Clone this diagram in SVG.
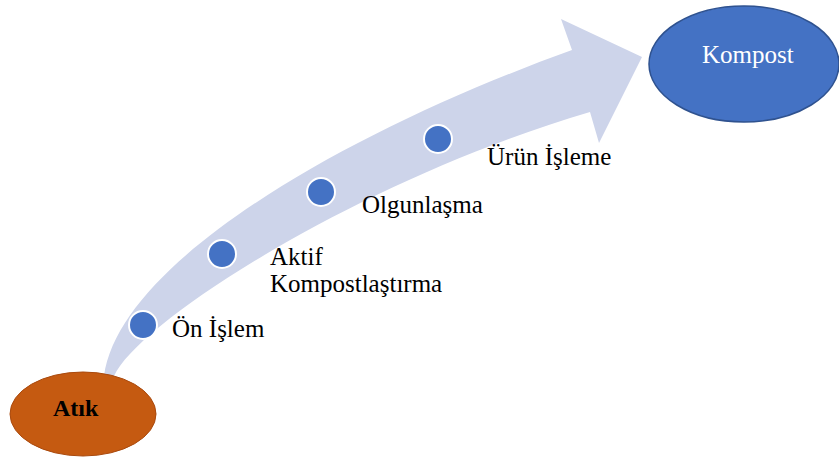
<svg xmlns="http://www.w3.org/2000/svg" width="839" height="461" viewBox="0 0 839 461">
<style>
.dot{fill:#4472C4;stroke:#FFFFFF;stroke-width:2}
</style>
<rect width="839" height="461" fill="#FFFFFF"/>
<g id="connectors">
<path id="arrow" d="M104,376 C120,260 350,130 572,50 L561,19 L642,57 L599,143 L590,112 C360,180 140,320 114,376 Z" fill="#CDD4EA"/>
</g>
<g id="atik">
<ellipse cx="83" cy="414" rx="73" ry="42" fill="#C55A11" stroke="#A9490D" stroke-width="1"/>
<text x="53" y="416" font-family="Liberation Serif, serif" font-size="24" font-weight="bold" fill="#000000">Atık</text>
</g>
<g id="kompost">
<ellipse cx="744" cy="64" rx="95" ry="58" fill="#4472C4" stroke="#2F528F" stroke-width="1.5"/>
<text x="702" y="63" font-family="Liberation Serif, serif" font-size="25" fill="#FFFFFF">Kompost</text>
</g>
<g id="on-islem">
<circle class="dot" cx="143" cy="325" r="14"/>
<text x="172" y="337" font-family="Liberation Serif, serif" font-size="25" fill="#000000">Ön İşlem</text>
</g>
<g id="aktif">
<circle class="dot" cx="222" cy="254" r="14"/>
<text x="270" y="265" font-family="Liberation Serif, serif" font-size="25" fill="#000000">Aktif</text>
<text x="270" y="292" font-family="Liberation Serif, serif" font-size="25" fill="#000000">Kompostlaştırma</text>
</g>
<g id="olgunlasma">
<circle class="dot" cx="321" cy="192" r="14"/>
<text x="362" y="213" font-family="Liberation Serif, serif" font-size="25" fill="#000000">Olgunlaşma</text>
</g>
<g id="urun-isleme">
<circle class="dot" cx="438" cy="139" r="14"/>
<text x="487" y="165" font-family="Liberation Serif, serif" font-size="25" fill="#000000">Ürün İşleme</text>
</g>
</svg>
